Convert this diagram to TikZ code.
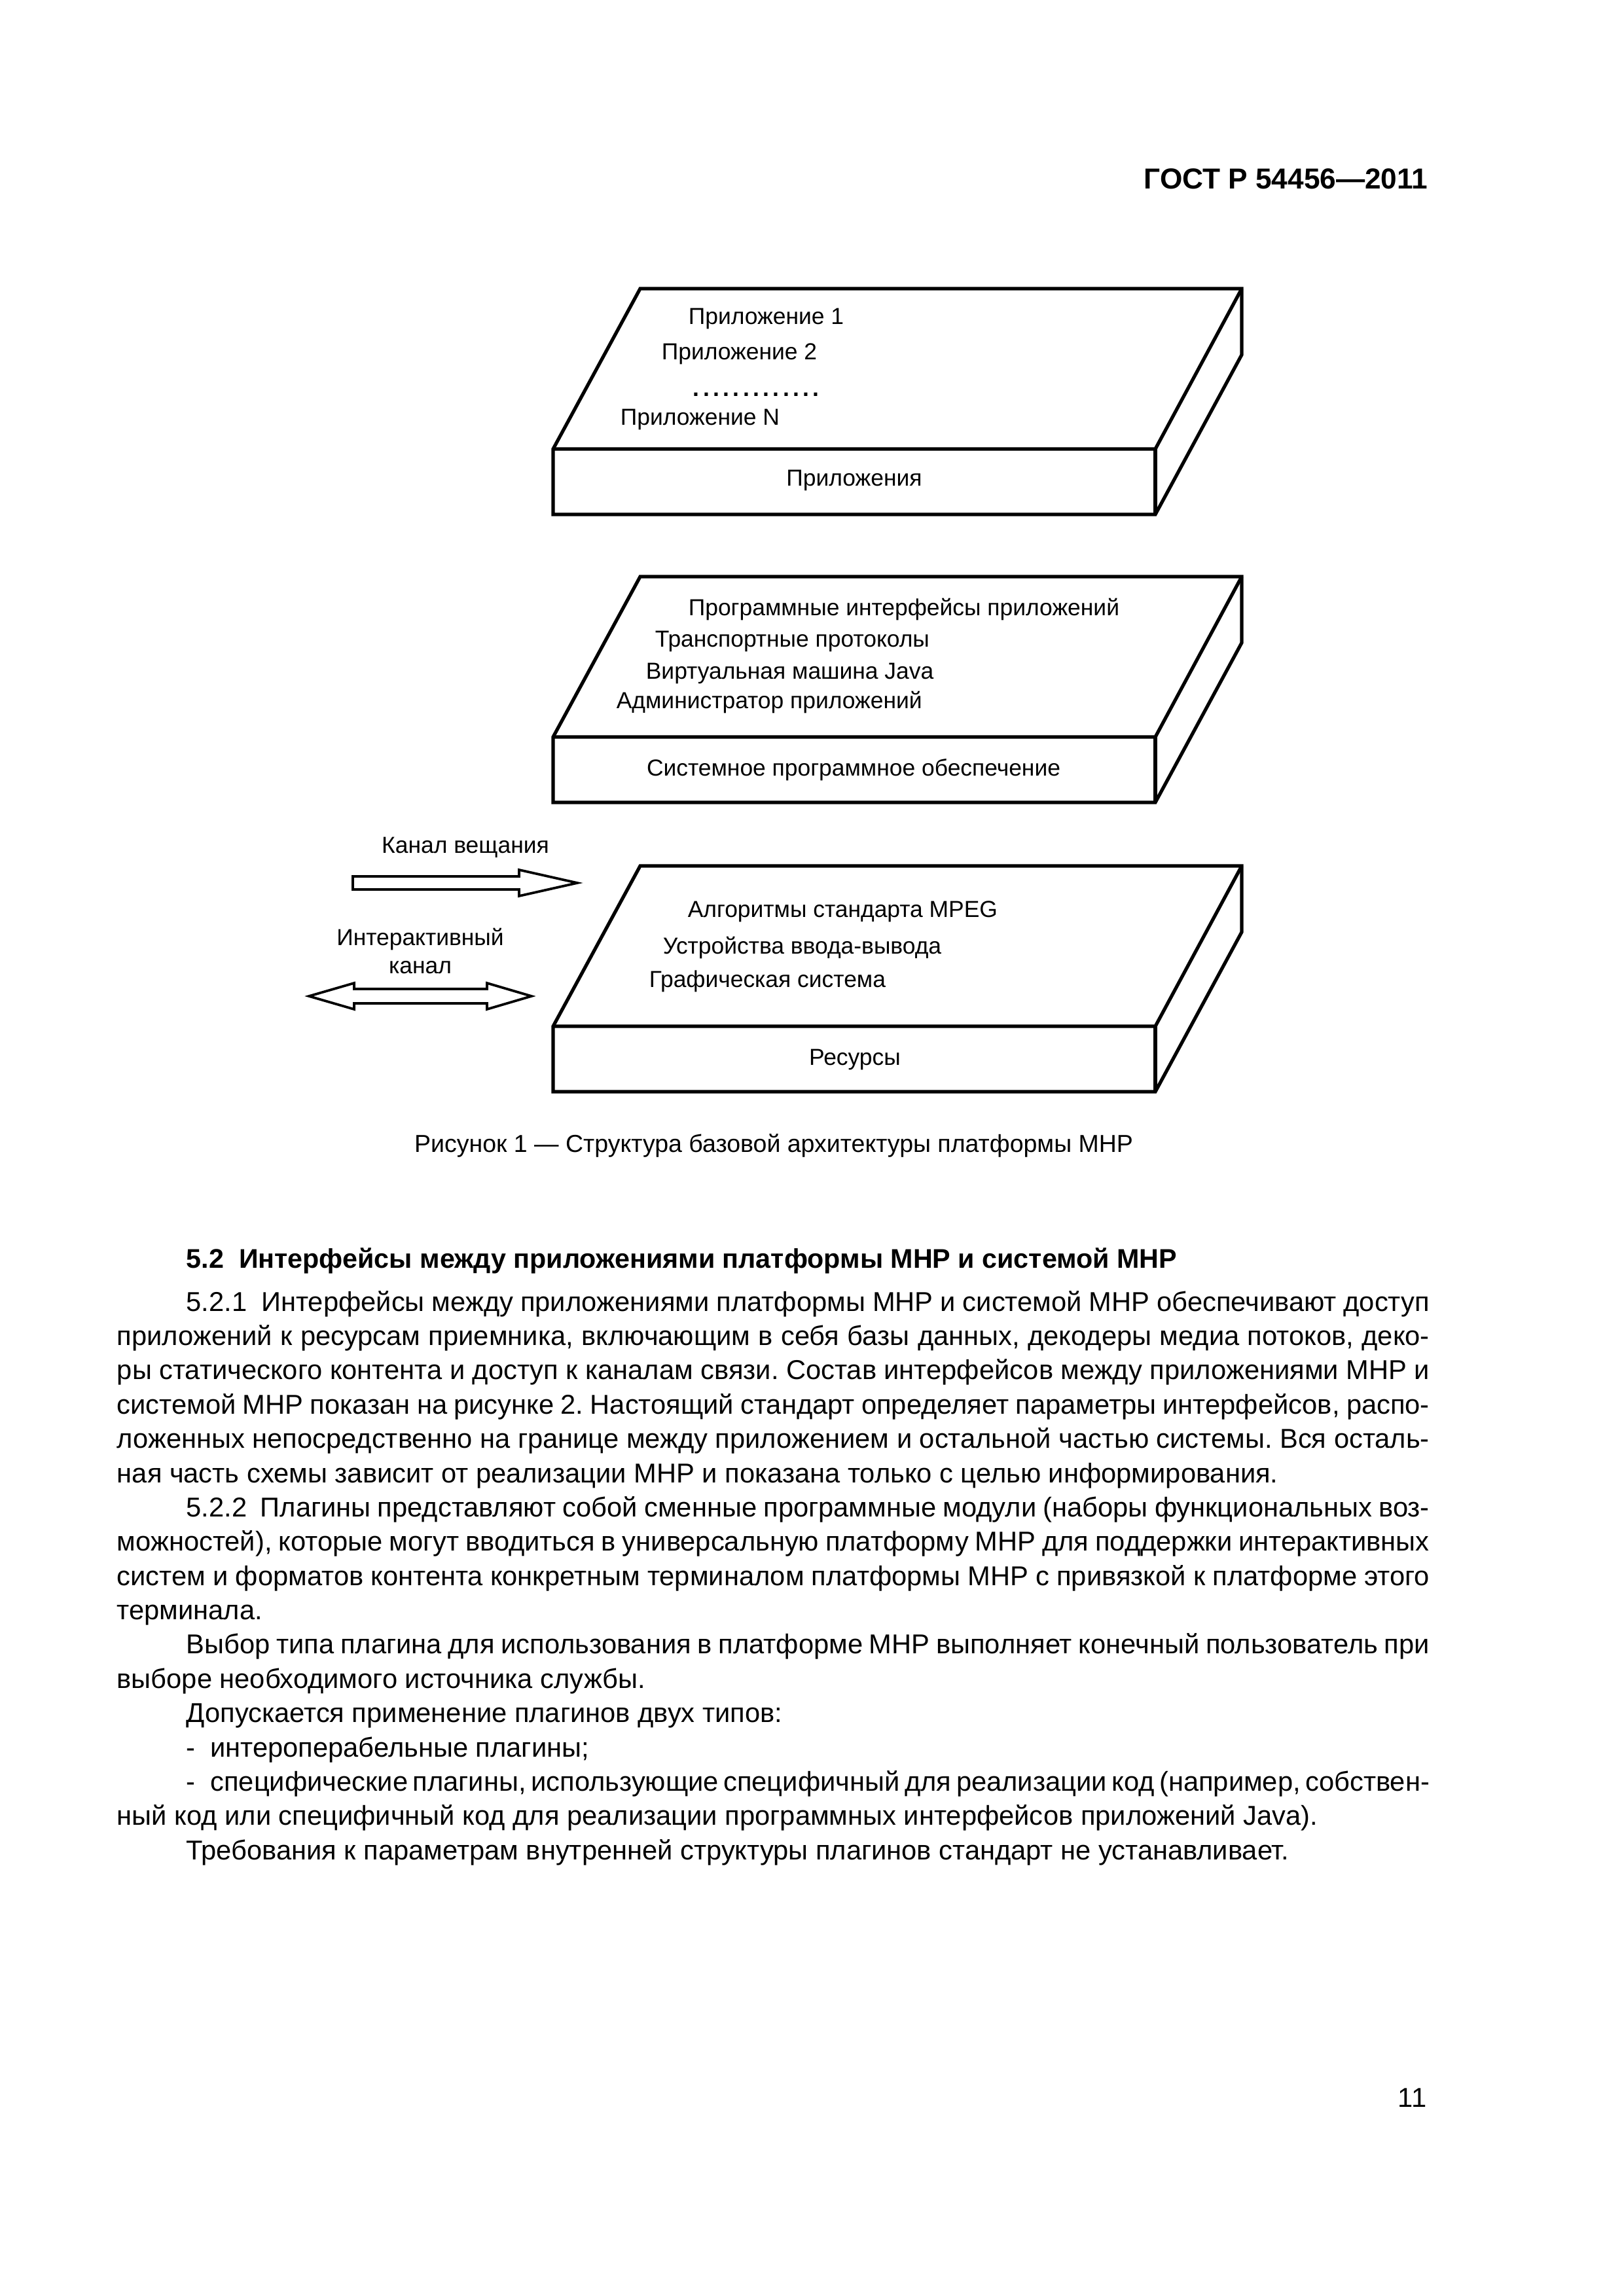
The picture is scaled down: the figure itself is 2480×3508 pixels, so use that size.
\documentclass[tikz,border=0pt]{standalone}
\usepackage{fontspec}
\setmainfont{Liberation Sans}

% start of an indented paragraph
\newcommand\pind{\par\noindent\hspace*{25.4pt}}

\begin{document}
\begin{tikzpicture}[x=0.24pt,y=-0.24pt,
  slab/.style={line width=1.25pt,line join=miter},
  lbl/.style={inner sep=0pt,anchor=base west,font=\fontsize{8.5}{10.1}\selectfont},
  mid/.style={lbl,anchor=base},
  hollow/.style={draw,line width=0.9pt,line join=miter}]
\path[use as bounding box,fill=white] (0,0) rectangle (2480,3508);

\node[inner sep=0pt,anchor=base east,font=\bfseries\fontsize{10.6}{12}\selectfont] (gost) at (2182,289) {ГОСТ Р 54456—2011};

% three layers
\foreach \t in {441,881,1323}{
  \draw[slab] (978,\t) -- (1897,\t) -- (1897,\t+101) -- (1765,\t+345) -- (845,\t+345) -- (845,\t+245) -- cycle;
  \draw[slab] (845,\t+245) -- (1765,\t+245) -- (1897,\t);
  \draw[slab] (1765,\t+245) -- (1765,\t+345);
}

% applications
\node[lbl] (app1) at (1051,496) {Приложение 1};
\node[lbl] (app2) at (1010,550) {Приложение 2};
\node[lbl,font=\bfseries\fontsize{8.5}{10}\selectfont] (dots) at (1058,606) {\foreach \i in {1,...,13}{.\kern1.3pt}};
\node[lbl] (appN) at (947,650) {Приложение N};
\node[mid] (apps) at (1305,743) {Приложения};

% system software
\node[lbl] (api) at (1051,941) {Программные интерфейсы приложений};
\node[lbl] (transp) at (1000,988) {Транспортные протоколы};
\node[lbl] (jvm) at (986,1037) {Виртуальная машина Java};
\node[lbl] (admin) at (941,1082) {Администратор приложений};
\node[mid] (sysw) at (1304,1185) {Системное программное обеспечение};

% resources
\node[lbl] (mpeg) at (1050,1401) {Алгоритмы стандарта MPEG};
\node[lbl] (io) at (1012,1457) {Устройства ввода-вывода};
\node[lbl] (gfx) at (991,1508) {Графическая система};
\node[mid] (res) at (1306,1627) {Ресурсы};

% channels
\node[mid] (bcast) at (711,1303) {Канал вещания};
\draw[hollow] (539,1339) -- (793,1339) -- (793,1329) -- (882,1349) -- (793,1369) -- (793,1359) -- (539,1359) -- cycle;
\node[mid,align=center] (inter) at (642,1487) {Интерактивный\\канал};
\draw[hollow] (472,1522) -- (541,1502) -- (541,1511) -- (744,1511) -- (744,1502) -- (812,1522)
  -- (744,1542) -- (744,1533) -- (541,1533) -- (541,1542) -- cycle;

\node[inner sep=0pt,anchor=base,font=\fontsize{9}{11}\selectfont] (cap) at (1182,1760)
  {Рисунок 1 — Структура базовой архитектуры платформы МНР};

\node[inner sep=0pt,anchor=base west,font=\bfseries\fontsize{9.9}{12}\selectfont] (sec) at (284,1937)
  {5.2~~Интерфейсы между приложениями платформы МНР и системой МНР};

\node[inner sep=0pt,anchor=north west,text width=481.2pt,align=justify,
  font=\fontsize{10}{12.57}\selectfont] (body) at (178,1950) {%
\tolerance=10000 \hbadness=10000 \hyphenpenalty=10000 \parskip=0pt \frenchspacing
\spaceskip=2.78pt plus 2pt minus 1.3pt
\pind\strut 5.2.1~~Интерфейсы между приложениями платформы МНР и системой МНР обеспечивают доступ\linebreak
приложений к ресурсам приемника, включающим в себя базы данных, декодеры медиа потоков, деко-\linebreak
ры статического контента и доступ к каналам связи. Состав интерфейсов между приложениями МНР и\linebreak
системой МНР показан на рисунке 2. Настоящий стандарт определяет параметры интерфейсов, распо-\linebreak
ложенных непосредственно на границе между приложением и остальной частью системы. Вся осталь-\linebreak
ная часть схемы зависит от реализации МНР и показана только с целью информирования.
\pind 5.2.2~~Плагины представляют собой сменные программные модули (наборы функциональных воз-\linebreak
можностей), которые могут вводиться в универсальную платформу МНР для поддержки интерактивных\linebreak
систем и форматов контента конкретным терминалом платформы МНР с привязкой к платформе этого\linebreak
терминала.
\pind Выбор типа плагина для использования в платформе МНР выполняет конечный пользователь при\linebreak
выборе необходимого источника службы.
\pind Допускается применение плагинов двух типов:
\pind -\nobreak\hspace{5.5pt}интероперабельные плагины;
\pind -\nobreak\hspace{5.5pt}специфические плагины, использующие специфичный для реализации код (например, собствен-\linebreak
ный код или специфичный код для реализации программных интерфейсов приложений Java).
\pind Требования к параметрам внутренней структуры плагинов стандарт не устанавливает.\par};

\node[inner sep=0pt,anchor=base east,font=\fontsize{10}{12}\selectfont] (pgnum) at (2180,3219) {11};
\end{tikzpicture}
\end{document}
